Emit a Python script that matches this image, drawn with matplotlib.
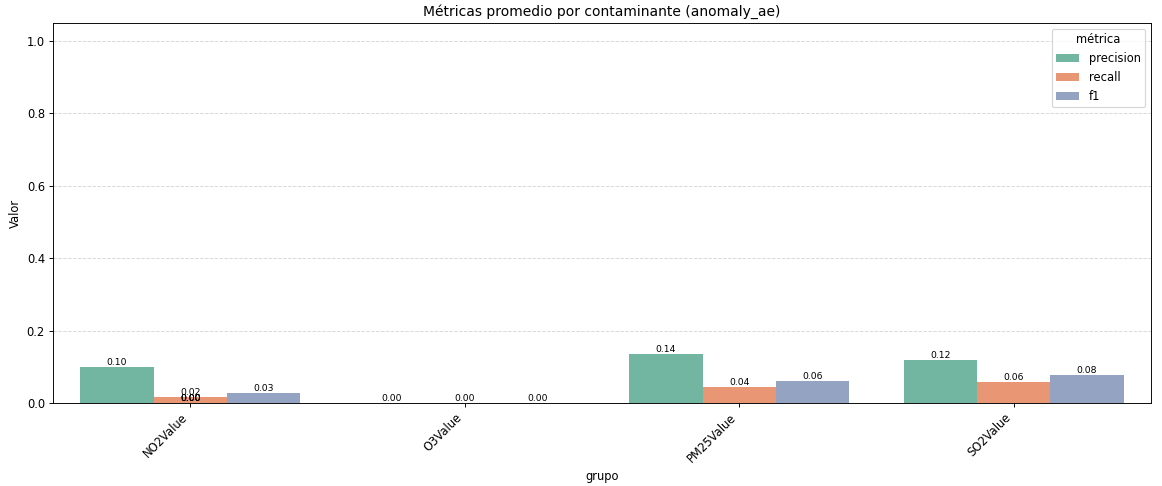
import matplotlib
matplotlib.use("Agg")
import matplotlib.pyplot as plt
import seaborn as sns
import pandas as pd

grupos = ["NO2Value", "O3Value", "PM25Value", "SO2Value"]
metricas = ["precision", "recall", "f1"]
precision = [0.099, 0.0, 0.135, 0.119]
recall = [0.016, 0.0, 0.044, 0.058]
f1 = [0.028, 0.0, 0.060, 0.077]

rows = []
for i, g in enumerate(grupos):
    for m, vals in zip(metricas, [precision, recall, f1]):
        rows.append({"grupo": g, "métrica": m, "Valor": vals[i]})
df = pd.DataFrame(rows)

DPI = 83
fig = plt.figure(figsize=(1162 / DPI, 486 / DPI), dpi=DPI)
ax = fig.add_axes([0.0456, 0.1708, 0.945, 0.782])
sns.barplot(data=df, x="grupo", y="Valor", hue="métrica", palette="Set2", ax=ax)

for p in ax.patches:
    h = p.get_height()
    if h != h:
        continue
    ax.annotate(f"{h:.2f}", (p.get_x() + p.get_width() / 2, h),
                ha="center", va="bottom", fontsize=8)

ax.set_ylim(0, 1.05)
ax.set_title("Métricas promedio por contaminante (anomaly_ae)", fontsize=12)
ax.set_xlabel("grupo")
ax.set_ylabel("Valor")
ax.grid(axis="y", linestyle="--", alpha=0.5)
ax.set_axisbelow(True)
plt.setp(ax.get_xticklabels(), rotation=45, ha="right")
ax.legend(title="métrica", loc="upper right")

fig.savefig("out.png", dpi=DPI)
